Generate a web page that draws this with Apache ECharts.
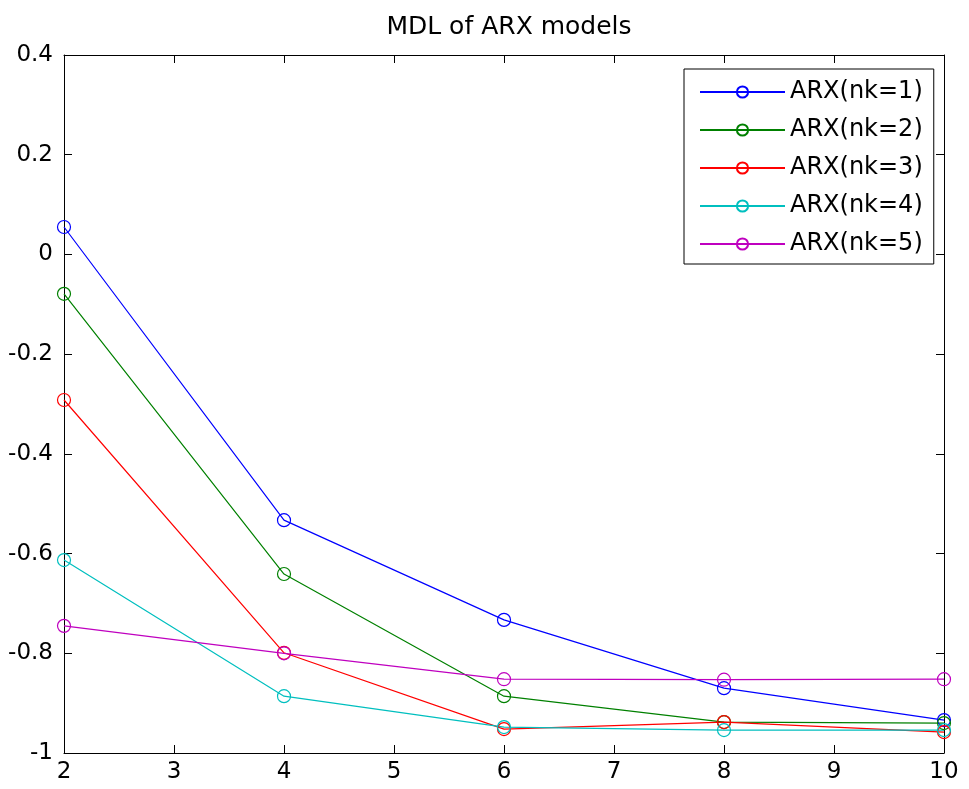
<!DOCTYPE html>
<html>
<head>
<meta charset="utf-8">
<script src="https://cdn.jsdelivr.net/npm/echarts@6/dist/echarts.min.js"></script>
<style>
  html, body { margin: 0; padding: 0; background: #fff; }
  #chart { width: 969px; height: 789px; }
</style>
</head>
<body>
<div id="chart"></div>
<script>
// 模型阶数（横轴）
const orders = [2, 4, 6, 8, 10];

// 各延迟 nk 下的 MDL 值
const mdlNk1 = [0.055, -0.533, -0.733, -0.870, -0.934];
const mdlNk2 = [-0.079, -0.641, -0.886, -0.938, -0.940];
const mdlNk3 = [-0.292, -0.799, -0.952, -0.938, -0.958];
const mdlNk4 = [-0.613, -0.886, -0.948, -0.954, -0.954];
const mdlNk5 = [-0.745, -0.800, -0.852, -0.853, -0.852];

const seriesNames = ['ARX(nk=1)', 'ARX(nk=2)', 'ARX(nk=3)', 'ARX(nk=4)', 'ARX(nk=5)'];
const seriesColors = ['#0000ff', '#008000', '#ff0000', '#00bfbf', '#bf00bf'];
const seriesValues = [mdlNk1, mdlNk2, mdlNk3, mdlNk4, mdlNk5];

const FONT = 'DejaVu Sans';
const AXIS_COLOR = '#000';

const chart = echarts.init(document.getElementById('chart'));

// 构建折线系列
const series = seriesValues.map((vals, i) => ({
    name: seriesNames[i],
    type: 'line',
    data: orders.map((x, j) => [x, vals[j]]),
    symbol: 'circle',
    symbolSize: 13,
    showSymbol: true,
    lineStyle: { color: seriesColors[i], width: 1.2 },
    itemStyle: { color: 'rgba(0,0,0,0)', borderColor: seriesColors[i], borderWidth: 1.2 },
    emphasis: { disabled: true },
    animation: false
}));

const tickStyle = { show: true, inside: true, length: 8, lineStyle: { color: AXIS_COLOR, width: 1 } };

const option = {
    backgroundColor: '#fff',
    title: {
        text: 'MDL of ARX models',
        left: 504,
        textAlign: 'center',
        top: 10,
        textStyle: { fontFamily: FONT, fontSize: 25, fontWeight: 'normal', color: '#000' }
    },
    legend: {
        left: 684,
        top: 69,
        orient: 'vertical',
        itemWidth: 85,
        itemHeight: 14,
        itemGap: 14,
        padding: [11, 11, 8, 15],
        borderColor: '#000',
        borderWidth: 1,
        backgroundColor: '#fff',
        textStyle: { fontFamily: FONT, fontSize: 24, color: '#000' },
        data: seriesNames
    },
    grid: { left: 64, right: 25, top: 55, bottom: 36, containLabel: false },
    xAxis: [
        {
            type: 'value', min: 2, max: 10, interval: 1,
            axisLine: { show: true, onZero: false, lineStyle: { color: AXIS_COLOR, width: 1 } },
            axisTick: tickStyle,
            splitLine: { show: false },
            axisLabel: { fontFamily: FONT, fontSize: 23, color: '#000', margin: 8 }
        },
        {
            type: 'value', min: 2, max: 10, interval: 1, position: 'top',
            axisLine: { show: true, onZero: false, lineStyle: { color: AXIS_COLOR, width: 1 } },
            axisTick: tickStyle,
            splitLine: { show: false },
            axisLabel: { show: false }
        }
    ],
    yAxis: [
        {
            type: 'value', min: -1, max: 0.4, interval: 0.2,
            axisLine: { show: true, onZero: false, lineStyle: { color: AXIS_COLOR, width: 1 } },
            axisTick: tickStyle,
            splitLine: { show: false },
            axisLabel: {
                fontFamily: FONT, fontSize: 23, color: '#000', margin: 11,
                formatter: v => String(Math.round(v * 10) / 10)
            }
        },
        {
            type: 'value', min: -1, max: 0.4, interval: 0.2, position: 'right',
            axisLine: { show: true, onZero: false, lineStyle: { color: AXIS_COLOR, width: 1 } },
            axisTick: tickStyle,
            splitLine: { show: false },
            axisLabel: { show: false }
        }
    ],
    series: series
};

chart.setOption(option);
</script>
</body>
</html>
